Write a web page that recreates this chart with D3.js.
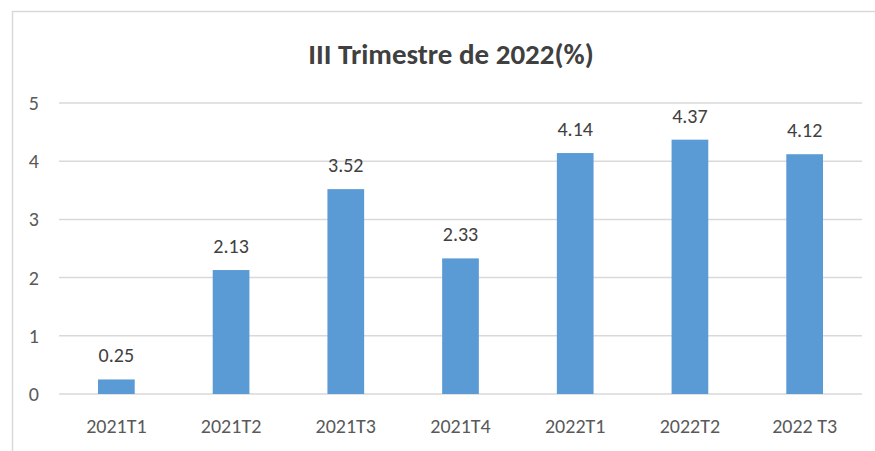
<!DOCTYPE html>
<html><head><meta charset="utf-8">
<script src="https://cdn.jsdelivr.net/npm/d3@7"></script>
<style>body{margin:0;background:#fff;}svg{display:block;}</style>
</head><body>
<script>
const categories = ["2021T1","2021T2","2021T3","2021T4","2022T1","2022T2","2022 T3"];
const values = [0.25,2.13,3.52,2.33,4.14,4.37,4.12];
const yTicks = [0,1,2,3,4,5];
const title = "III Trimestre de 2022(%)";

const W = 875, H = 451;
const svg = d3.select("body").append("svg").attr("width", W).attr("height", H);
const font = "Carlito, Calibri, 'Liberation Sans Narrow', 'Open Sans', sans-serif";

svg.append("path").attr("d", `M12.5,${H} L12.5,11.5 L${W},11.5`)
  .attr("fill","none").attr("stroke","#d9d9d9").attr("stroke-width",1.5);

const x = d3.scaleBand().domain(categories).range([59, 862]).paddingInner(0.68).paddingOuter(0.34);
const y = d3.scaleLinear().domain([0,5]).range([394, 103]);

svg.append("g").selectAll("line").data(yTicks).join("line")
  .attr("x1", 59).attr("x2", 862).attr("y1", d=>y(d)).attr("y2", d=>y(d))
  .attr("stroke","#d9d9d9").attr("stroke-width",1.5);

svg.append("g").selectAll("text").data(yTicks).join("text")
  .attr("x", 39).attr("y", d=>y(d)+7).attr("text-anchor","end")
  .attr("font-family", font).attr("font-size", 20).attr("fill","#595959").text(d=>d);

svg.append("g").selectAll("rect").data(values).join("rect")
  .attr("x", (d,i)=>x(categories[i])).attr("width", x.bandwidth())
  .attr("y", d=>y(d)).attr("height", d=>y(0)-y(d)).attr("fill","#5b9bd5");

svg.append("g").selectAll("text").data(values).join("text")
  .attr("x", (d,i)=>x(categories[i])+x.bandwidth()/2).attr("y", d=>y(d)-17)
  .attr("text-anchor","middle").attr("font-family", font).attr("font-size", 20)
  .attr("fill","#404040").text(d=>d.toFixed(2));

svg.append("g").selectAll("text").data(categories).join("text")
  .attr("x", d=>x(d)+x.bandwidth()/2).attr("y", 433).attr("text-anchor","middle")
  .attr("font-family", font).attr("font-size", 20).attr("fill","#595959").text(d=>d);

svg.append("text").attr("x", 451).attr("y", 64).attr("text-anchor","middle")
  .attr("font-family", font).attr("font-size", 29).attr("font-weight","bold")
  .attr("fill","#404040").text(title);
</script>
</body></html>
